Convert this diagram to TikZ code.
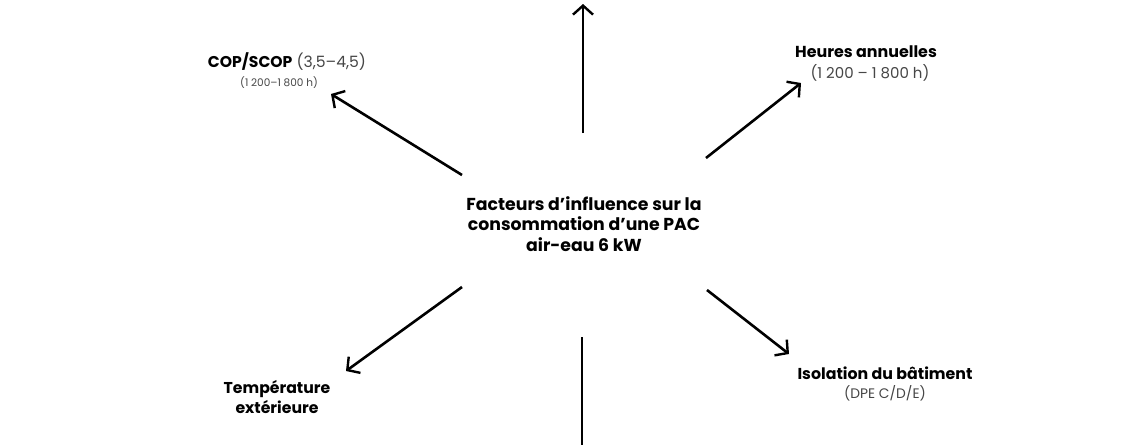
\documentclass[tikz,border=0pt]{standalone}
\usepackage{fontspec}
\setmainfont{Poppins}
\usetikzlibrary{arrows.meta}
\definecolor{txtgray}{RGB}{70,70,70}
\begin{document}
\begin{tikzpicture}[x=1pt,y=-1pt,
  conn/.style={line width=2.6pt,-{Straight Barb[length=9pt,width=20pt,line width=2.4pt]}},
  plain/.style={line width=2.6pt},
  lbl/.style={inner sep=0pt,align=center,text=black},
  sub/.style={inner sep=0pt,align=center,text=txtgray}]
\useasboundingbox[fill=white] (0,0) rectangle (1140,445);
% text nodes
\node[lbl,font=\fontsize{17.3}{20.5}\selectfont\bfseries] (center) at (584,224)
  {Facteurs d'influence sur la\\consommation d’une PAC\\air-eau 6 kW};
\node[lbl,font=\fontsize{15.6}{19}\selectfont] (cop) at (287,62)
  {\textbf{COP/SCOP} {\color{txtgray}(3,5–4,5)}};
\node[sub,font=\fontsize{10.5}{12}\selectfont] (copsub) at (279,83) {(1 200–1 800 h)};
\node[lbl,font=\fontsize{15.9}{19}\selectfont\bfseries] (heures) at (866,52) {Heures annuelles};
\node[sub,font=\fontsize{15}{18}\selectfont] (heuressub) at (870,73) {(1 200 – 1 800 h)};
\node[lbl,font=\fontsize{15.7}{20}\selectfont\bfseries] (temp) at (277,397)
  {Température\\extérieure};
\node[lbl,font=\fontsize{15.8}{19}\selectfont\bfseries] (iso) at (885,373) {Isolation du bâtiment};
\node[sub,font=\fontsize{13.8}{16}\selectfont] (isosub) at (885,393) {(DPE C/D/E)};
% connector coordinates
\coordinate (upS) at (583,133);
\coordinate (upE) at (583,4);
\coordinate (dnS) at (582,337);
\coordinate (dnE) at (582,445);
\coordinate (copS) at (462,175);
\coordinate (copE) at (331,94);
\coordinate (heuS) at (706,158);
\coordinate (heuE) at (801,83);
\coordinate (tmpS) at (462,287);
\coordinate (tmpE) at (346,371);
\coordinate (isoS) at (707,290);
\coordinate (isoE) at (789,354);
% connectors
\draw[conn] (upS) -- (upE);
\draw[plain] (dnS) -- (dnE);
\draw[conn] (copS) -- (copE);
\draw[conn] (heuS) -- (heuE);
\draw[conn] (tmpS) -- (tmpE);
\draw[conn] (isoS) -- (isoE);
\end{tikzpicture}
\end{document}
